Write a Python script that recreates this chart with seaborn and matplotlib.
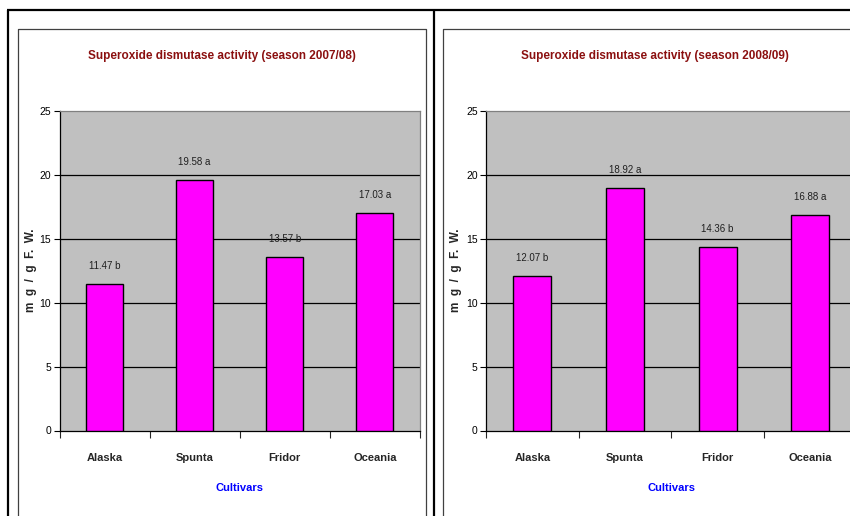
import matplotlib
matplotlib.use("Agg")
import numpy as np
import pandas as pd
import seaborn as sns
import matplotlib.pyplot as plt
from matplotlib.lines import Line2D
from matplotlib.ticker import FixedLocator, NullFormatter

# values
cultivars = ["Alaska", "Spunta", "Fridor", "Oceania"]
sod_2007 = [11.47, 19.58, 13.57, 17.03]
letters_2007 = ["b", "a", "b", "a"]
sod_2008 = [12.07, 18.92, 14.36, 16.88]
letters_2008 = ["b", "a", "b", "a"]
titles = ["Superoxide dismutase activity (season 2007/08)",
          "Superoxide dismutase activity (season 2008/09)"]
y_ticks = [0, 5, 10, 15, 20, 25]

sns.set_style("white")
plt.rcParams["font.family"] = ["Liberation Sans", "DejaVu Sans"]

W, H = 850, 516
fig = plt.figure(figsize=(8.5, 5.16), dpi=100)


def fx(px):
    return px / W


def fy(py):
    return 1 - py / H


# outer frame and panel boxes, like the pasted excel charts
frame = dict(color="black", lw=1.6, solid_capstyle="butt")
fig.add_artist(Line2D([fx(7), 1], [fy(10), fy(10)], **frame))
fig.add_artist(Line2D([fx(7.5), fx(7.5)], [0, fy(10)], **frame))
fig.add_artist(Line2D([fx(433.5), fx(433.5)], [0, fy(10)], **frame))
box = dict(color="#404040", lw=0.9)
fig.add_artist(Line2D([fx(18), fx(18), fx(426), fx(426)], [0, fy(29), fy(29), 0], **box))
fig.add_artist(Line2D([fx(443), fx(443), 1], [0, fy(29), fy(29)], **box))

panels = [
    (sod_2007, letters_2007, titles[0], [fx(59.5), fy(430.5), fx(360.5), 319.8 / H], 222, -0.062),
    (sod_2008, letters_2008, titles[1], [fx(486), fy(430.5), fx(370.5), 319.8 / H], 655, -0.064),
]

for values, letters, title, rect, title_x, ylab_x in panels:
    ax = fig.add_axes(rect)
    df = pd.DataFrame({"cultivar": cultivars, "sod": values})
    sns.barplot(data=df, x="cultivar", y="sod", color="#FF00FF", saturation=1,
                edgecolor="black", linewidth=1.0, width=0.41, ax=ax, zorder=3)
    ax.set_facecolor("#C0C0C0")
    ax.set_xlim(-0.5, 3.5)
    ax.set_ylim(0, 25)

    for i, (v, l) in enumerate(zip(values, letters)):
        ax.annotate("{:.2f} {}".format(v, l), (i, v), xytext=(0, 13),
                    textcoords="offset points", ha="center", va="center",
                    fontsize=7, color="#202020", zorder=4)

    # horizontal gridlines
    for t in y_ticks[1:-1]:
        ax.axhline(t, color="black", lw=0.9, zorder=1)

    ax.set_yticks(y_ticks)
    ax.tick_params(axis="y", direction="out", length=4, width=0.8, labelsize=7.5,
                   pad=2, left=True, colors="black")

    # excel style category ticks between the bars
    ax.xaxis.set_major_locator(FixedLocator([-0.5, 0.5, 1.5, 2.5, 3.5]))
    ax.xaxis.set_major_formatter(NullFormatter())
    ax.xaxis.set_minor_locator(FixedLocator(range(len(cultivars))))
    ax.set_xticklabels(cultivars, minor=True, fontsize=8, fontweight="bold")
    ax.tick_params(axis="x", which="major", direction="out", length=5, width=0.8,
                   bottom=True)
    ax.tick_params(axis="x", which="minor", length=0, pad=16)

    for side in ["left", "bottom"]:
        ax.spines[side].set_color("black")
        ax.spines[side].set_linewidth(0.9)
    for side in ["top", "right"]:
        ax.spines[side].set_color("#808080")
        ax.spines[side].set_linewidth(0.9)

    ax.set_xlabel("")
    ax.text(0.5, -0.18, "Cultivars", transform=ax.transAxes, ha="center",
            va="center", fontsize=8, fontweight="bold", color="#0000FF")
    ax.set_ylabel("m  g  /  g  F.  W.", fontsize=8.5, fontweight="bold")
    ax.yaxis.set_label_coords(ylab_x, 0.5)

    fig.text(fx(title_x), fy(56), title, ha="center", va="center", fontsize=8.5,
             fontweight="bold", color="#8B1010")

fig.savefig("out.png", dpi=100)
